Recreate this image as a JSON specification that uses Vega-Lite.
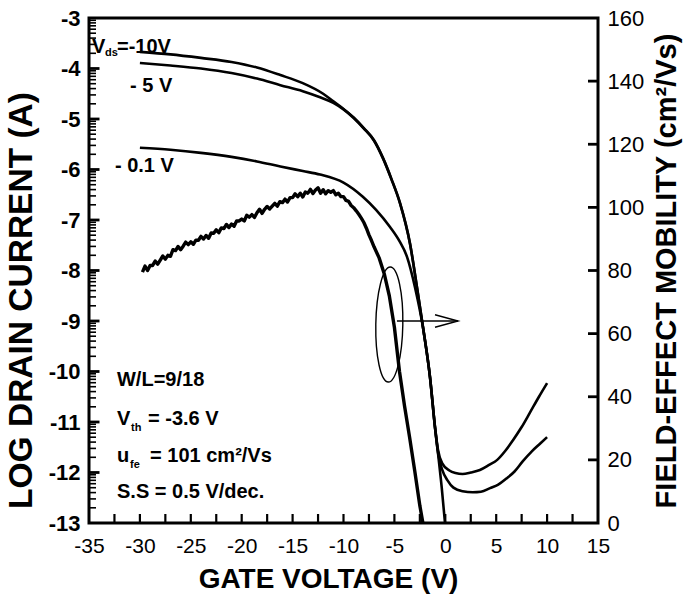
{
  "$schema": "https://vega.github.io/schema/vega-lite/v6.json",
  "width": 509,
  "height": 505,
  "autosize": "none",
  "padding": {"left": 89, "top": 18, "right": 88, "bottom": 84},
  "background": "white",
  "config": {
    "font": "Liberation Sans",
    "view": {"stroke": "#000", "strokeWidth": 3},
    "axis": {"domain": false, "grid": false, "ticks": false, "labelColor": "#000", "titleColor": "#000", "labelFont": "Liberation Sans", "titleFont": "Liberation Sans", "labelFlush": false, "labelOverlap": false}
  },
  "datasets": {
    "curves": [
      {"s": "a", "v": -30, "y": -3.67}, {"s": "a", "v": -27, "y": -3.72}, {"s": "a", "v": -24, "y": -3.79}, {"s": "a", "v": -21, "y": -3.87}, {"s": "a", "v": -18.5, "y": -3.98}, {"s": "a", "v": -16.2, "y": -4.13}, {"s": "a", "v": -14, "y": -4.29}, {"s": "a", "v": -12, "y": -4.5}, {"s": "a", "v": -11, "y": -4.65}, {"s": "a", "v": -10, "y": -4.8}, {"s": "a", "v": -9, "y": -4.97}, {"s": "a", "v": -8, "y": -5.18}, {"s": "a", "v": -7, "y": -5.42}, {"s": "a", "v": -6.1, "y": -5.78}, {"s": "a", "v": -5.3, "y": -6.18}, {"s": "a", "v": -4.45, "y": -6.66}, {"s": "a", "v": -3.47, "y": -7.46}, {"s": "a", "v": -2.78, "y": -8.33}, {"s": "a", "v": -2.19, "y": -9.12}, {"s": "a", "v": -1.5, "y": -10.11}, {"s": "a", "v": -1.01, "y": -11.1}, {"s": "a", "v": -0.72, "y": -11.55}, {"s": "a", "v": -0.3, "y": -11.82}, {"s": "a", "v": 0.4, "y": -11.96}, {"s": "a", "v": 1.0, "y": -12.01}, {"s": "a", "v": 1.7, "y": -12.03}, {"s": "a", "v": 2.5, "y": -12.0}, {"s": "a", "v": 3.4, "y": -11.95}, {"s": "a", "v": 4.3, "y": -11.85}, {"s": "a", "v": 5.1, "y": -11.75}, {"s": "a", "v": 5.9, "y": -11.57}, {"s": "a", "v": 6.65, "y": -11.36}, {"s": "a", "v": 7.5, "y": -11.1}, {"s": "a", "v": 8.3, "y": -10.82}, {"s": "a", "v": 9.2, "y": -10.5}, {"s": "a", "v": 10, "y": -10.23},
      {"s": "b", "v": -30, "y": -3.89}, {"s": "b", "v": -27, "y": -3.94}, {"s": "b", "v": -24, "y": -4.0}, {"s": "b", "v": -21, "y": -4.09}, {"s": "b", "v": -18.5, "y": -4.2}, {"s": "b", "v": -16.2, "y": -4.33}, {"s": "b", "v": -14, "y": -4.45}, {"s": "b", "v": -12.3, "y": -4.57}, {"s": "b", "v": -11, "y": -4.68}, {"s": "b", "v": -10, "y": -4.81}, {"s": "b", "v": -9, "y": -4.98}, {"s": "b", "v": -8, "y": -5.19}, {"s": "b", "v": -7, "y": -5.43}, {"s": "b", "v": -6.1, "y": -5.79}, {"s": "b", "v": -5.3, "y": -6.19}, {"s": "b", "v": -4.45, "y": -6.67}, {"s": "b", "v": -3.47, "y": -7.47}, {"s": "b", "v": -2.78, "y": -8.34}, {"s": "b", "v": -2.19, "y": -9.13}, {"s": "b", "v": -1.5, "y": -10.12}, {"s": "b", "v": -1.01, "y": -11.12}, {"s": "b", "v": -0.72, "y": -11.6}, {"s": "b", "v": -0.3, "y": -11.95}, {"s": "b", "v": 0.2, "y": -12.15}, {"s": "b", "v": 0.8, "y": -12.3}, {"s": "b", "v": 1.7, "y": -12.37}, {"s": "b", "v": 2.7, "y": -12.39}, {"s": "b", "v": 3.5, "y": -12.38}, {"s": "b", "v": 4.4, "y": -12.31}, {"s": "b", "v": 5.2, "y": -12.24}, {"s": "b", "v": 6.0, "y": -12.12}, {"s": "b", "v": 6.8, "y": -11.98}, {"s": "b", "v": 7.6, "y": -11.78}, {"s": "b", "v": 8.5, "y": -11.58}, {"s": "b", "v": 9.3, "y": -11.43}, {"s": "b", "v": 10, "y": -11.3},
      {"s": "c", "v": -30, "y": -5.57}, {"s": "c", "v": -27, "y": -5.61}, {"s": "c", "v": -24, "y": -5.67}, {"s": "c", "v": -21, "y": -5.75}, {"s": "c", "v": -18.5, "y": -5.84}, {"s": "c", "v": -16.2, "y": -5.94}, {"s": "c", "v": -14, "y": -6.03}, {"s": "c", "v": -12.3, "y": -6.1}, {"s": "c", "v": -10, "y": -6.26}, {"s": "c", "v": -8.1, "y": -6.54}, {"s": "c", "v": -6.8, "y": -6.8}, {"s": "c", "v": -5.43, "y": -7.14}, {"s": "c", "v": -4.5, "y": -7.42}, {"s": "c", "v": -3.76, "y": -7.73}, {"s": "c", "v": -2.98, "y": -8.33}, {"s": "c", "v": -2.19, "y": -9.13}, {"s": "c", "v": -1.5, "y": -10.12}, {"s": "c", "v": -1.01, "y": -11.1}, {"s": "c", "v": -0.72, "y": -11.61}, {"s": "c", "v": -0.35, "y": -12.3}, {"s": "c", "v": -0.03, "y": -13.0}
    ],
    "mob": [
      {"v": -29.75, "mu": 79.5}, {"v": -29.5, "mu": 81.4}, {"v": -29.25, "mu": 80.0}, {"v": -29.0, "mu": 81.6}, {"v": -28.75, "mu": 81.6}, {"v": -28.5, "mu": 83.0}, {"v": -28.25, "mu": 82.0}, {"v": -28.0, "mu": 83.3}, {"v": -27.75, "mu": 84.6}, {"v": -27.5, "mu": 83.6}, {"v": -27.25, "mu": 84.8}, {"v": -27.0, "mu": 84.5}, {"v": -26.75, "mu": 86.6}, {"v": -26.5, "mu": 86.3}, {"v": -26.25, "mu": 87.6}, {"v": -26.0, "mu": 86.6}, {"v": -25.75, "mu": 87.7}, {"v": -25.5, "mu": 89.0}, {"v": -25.25, "mu": 88.2}, {"v": -25.0, "mu": 89.1}, {"v": -24.75, "mu": 88.3}, {"v": -24.5, "mu": 89.6}, {"v": -24.25, "mu": 89.6}, {"v": -24.0, "mu": 90.8}, {"v": -23.75, "mu": 90.0}, {"v": -23.5, "mu": 91.1}, {"v": -23.25, "mu": 90.2}, {"v": -23.0, "mu": 91.9}, {"v": -22.75, "mu": 91.8}, {"v": -22.5, "mu": 92.9}, {"v": -22.25, "mu": 92.0}, {"v": -22.0, "mu": 93.5}, {"v": -21.75, "mu": 93.3}, {"v": -21.5, "mu": 94.6}, {"v": -21.25, "mu": 93.6}, {"v": -21.0, "mu": 94.7}, {"v": -20.75, "mu": 94.0}, {"v": -20.5, "mu": 95.7}, {"v": -20.25, "mu": 95.7}, {"v": -20.0, "mu": 96.3}, {"v": -19.75, "mu": 95.7}, {"v": -19.5, "mu": 97.5}, {"v": -19.25, "mu": 96.9}, {"v": -19.0, "mu": 97.7}, {"v": -18.75, "mu": 96.8}, {"v": -18.5, "mu": 98.3}, {"v": -18.25, "mu": 99.4}, {"v": -18.0, "mu": 98.1}, {"v": -17.75, "mu": 99.4}, {"v": -17.5, "mu": 100.3}, {"v": -17.25, "mu": 99.5}, {"v": -17.0, "mu": 100.4}, {"v": -16.75, "mu": 101.3}, {"v": -16.5, "mu": 100.4}, {"v": -16.25, "mu": 101.8}, {"v": -16.0, "mu": 101.5}, {"v": -15.75, "mu": 102.6}, {"v": -15.5, "mu": 101.7}, {"v": -15.25, "mu": 103.1}, {"v": -15.0, "mu": 103.1}, {"v": -14.75, "mu": 104.3}, {"v": -14.5, "mu": 103.4}, {"v": -14.25, "mu": 104.5}, {"v": -14.0, "mu": 103.3}, {"v": -13.75, "mu": 104.9}, {"v": -13.5, "mu": 104.5}, {"v": -13.25, "mu": 105.7}, {"v": -13.0, "mu": 104.4}, {"v": -12.75, "mu": 105.5}, {"v": -12.5, "mu": 106.2}, {"v": -12.25, "mu": 104.5}, {"v": -12.0, "mu": 105.6}, {"v": -11.75, "mu": 104.3}, {"v": -11.5, "mu": 105.3}, {"v": -11.25, "mu": 104.8}, {"v": -11.0, "mu": 105.3}, {"v": -10.75, "mu": 104.0}, {"v": -10.5, "mu": 104.5}, {"v": -10.25, "mu": 103.4}, {"v": -10.0, "mu": 103.4}, {"v": -9.75, "mu": 102.2}, {"v": -9.5, "mu": 101.9}, {"v": -9.25, "mu": 100.6}, {"v": -9.0, "mu": 99.9}, {"v": -8.75, "mu": 98.9}, {"v": -8.5, "mu": 97.8}, {"v": -8.25, "mu": 96.6}, {"v": -8.0, "mu": 95.2}, {"v": -7.75, "mu": 93.4}, {"v": -7.5, "mu": 91.3}, {"v": -7.25, "mu": 89.5}, {"v": -7.0, "mu": 87.5}, {"v": -6.5, "mu": 84.0}, {"v": -6.0, "mu": 79.0}, {"v": -5.5, "mu": 72.0}, {"v": -5.0, "mu": 62.0}, {"v": -4.5, "mu": 48.0}, {"v": -4.0, "mu": 37.0}, {"v": -3.5, "mu": 27.0}, {"v": -3.0, "mu": 16.5}, {"v": -2.5, "mu": 5.5}, {"v": -2.2, "mu": 0}
    ]
  },
  "encoding": {
    "x": {
      "field": "v", "type": "quantitative",
      "scale": {"domain": [-35, 15], "nice": false, "zero": false},
      "axis": {
        "title": "GATE VOLTAGE (V)",
        "values": [-35, -30, -25, -20, -15, -10, -5, 0, 5, 10, 15],
        "labelExpr": "toString(datum.value)",
        "labelFontSize": 21, "labelPadding": 12,
        "titleFontSize": 28, "titleFontWeight": "bold", "titlePadding": 9, "titleX": 239
      }
    }
  },
  "layer": [
    {
      "encoding": {
        "y": {
          "field": "y", "type": "quantitative",
          "scale": {"domain": [-13, -3], "nice": false, "zero": false},
          "axis": {
            "orient": "left",
            "title": "LOG DRAIN CURRENT (A)",
            "values": [-13, -12, -11, -10, -9, -8, -7, -6, -5, -4, -3],
            "labelExpr": "toString(datum.value)",
            "labelFontSize": 22, "labelFontWeight": "bold", "labelPadding": 9,
            "titleFontSize": 33.5, "titleFontWeight": "bold", "titlePadding": 10, "titleY": 282
          }
        }
      },
      "layer": [
        {
          "data": {"values": [
            {"v": -32.5, "y": -13}, {"v": -30, "y": -13}, {"v": -27.5, "y": -13}, {"v": -25, "y": -13}, {"v": -22.5, "y": -13}, {"v": -20, "y": -13}, {"v": -17.5, "y": -13}, {"v": -15, "y": -13}, {"v": -12.5, "y": -13}, {"v": -10, "y": -13}, {"v": -7.5, "y": -13}, {"v": -5, "y": -13}, {"v": -2.5, "y": -13}, {"v": 0, "y": -13}, {"v": 2.5, "y": -13}, {"v": 5, "y": -13}, {"v": 7.5, "y": -13}, {"v": 10, "y": -13}, {"v": 12.5, "y": -13}
          ]},
          "mark": {"type": "point", "shape": "M0,0 L0,-1", "size": 324, "filled": false, "stroke": "#000", "strokeWidth": 2.2, "opacity": 1}
        },
        {
          "data": {"values": [
            {"v": -35, "y": -12}, {"v": -35, "y": -11}, {"v": -35, "y": -10}, {"v": -35, "y": -9}, {"v": -35, "y": -8}, {"v": -35, "y": -7}, {"v": -35, "y": -6}, {"v": -35, "y": -5}, {"v": -35, "y": -4}
          ]},
          "mark": {"type": "point", "shape": "M0,0 L1,0", "size": 441, "filled": false, "stroke": "#000", "strokeWidth": 2.8, "opacity": 1}
        },
        {
          "data": {"values": [
            {"v": -35, "y": -12.69897}, {"v": -35, "y": -12.52288}, {"v": -35, "y": -12.39794}, {"v": -35, "y": -12.30103}, {"v": -35, "y": -12.22185}, {"v": -35, "y": -12.1549}, {"v": -35, "y": -12.09691}, {"v": -35, "y": -12.04576},
            {"v": -35, "y": -11.69897}, {"v": -35, "y": -11.52288}, {"v": -35, "y": -11.39794}, {"v": -35, "y": -11.30103}, {"v": -35, "y": -11.22185}, {"v": -35, "y": -11.1549}, {"v": -35, "y": -11.09691}, {"v": -35, "y": -11.04576},
            {"v": -35, "y": -10.69897}, {"v": -35, "y": -10.52288}, {"v": -35, "y": -10.39794}, {"v": -35, "y": -10.30103}, {"v": -35, "y": -10.22185}, {"v": -35, "y": -10.1549}, {"v": -35, "y": -10.09691}, {"v": -35, "y": -10.04576},
            {"v": -35, "y": -9.69897}, {"v": -35, "y": -9.52288}, {"v": -35, "y": -9.39794}, {"v": -35, "y": -9.30103}, {"v": -35, "y": -9.22185}, {"v": -35, "y": -9.1549}, {"v": -35, "y": -9.09691}, {"v": -35, "y": -9.04576},
            {"v": -35, "y": -8.69897}, {"v": -35, "y": -8.52288}, {"v": -35, "y": -8.39794}, {"v": -35, "y": -8.30103}, {"v": -35, "y": -8.22185}, {"v": -35, "y": -8.1549}, {"v": -35, "y": -8.09691}, {"v": -35, "y": -8.04576},
            {"v": -35, "y": -7.69897}, {"v": -35, "y": -7.52288}, {"v": -35, "y": -7.39794}, {"v": -35, "y": -7.30103}, {"v": -35, "y": -7.22185}, {"v": -35, "y": -7.1549}, {"v": -35, "y": -7.09691}, {"v": -35, "y": -7.04576},
            {"v": -35, "y": -6.69897}, {"v": -35, "y": -6.52288}, {"v": -35, "y": -6.39794}, {"v": -35, "y": -6.30103}, {"v": -35, "y": -6.22185}, {"v": -35, "y": -6.1549}, {"v": -35, "y": -6.09691}, {"v": -35, "y": -6.04576},
            {"v": -35, "y": -5.69897}, {"v": -35, "y": -5.52288}, {"v": -35, "y": -5.39794}, {"v": -35, "y": -5.30103}, {"v": -35, "y": -5.22185}, {"v": -35, "y": -5.1549}, {"v": -35, "y": -5.09691}, {"v": -35, "y": -5.04576},
            {"v": -35, "y": -4.69897}, {"v": -35, "y": -4.52288}, {"v": -35, "y": -4.39794}, {"v": -35, "y": -4.30103}, {"v": -35, "y": -4.22185}, {"v": -35, "y": -4.1549}, {"v": -35, "y": -4.09691}, {"v": -35, "y": -4.04576},
            {"v": -35, "y": -3.69897}, {"v": -35, "y": -3.52288}, {"v": -35, "y": -3.39794}, {"v": -35, "y": -3.30103}, {"v": -35, "y": -3.22185}, {"v": -35, "y": -3.1549}, {"v": -35, "y": -3.09691}, {"v": -35, "y": -3.04576}
          ]},
          "mark": {"type": "point", "shape": "M0,0 L1,0", "size": 196, "filled": false, "stroke": "#000", "strokeWidth": 1.6, "opacity": 1}
        },
        {
          "data": {"name": "curves"},
          "mark": {"type": "line", "color": "#000", "strokeWidth": 2.6, "strokeJoin": "round", "interpolate": "monotone"},
          "encoding": {"detail": {"field": "s"}}
        },
        {
          "data": {"values": [{"v": -5.5, "y": -9.07}]},
          "mark": {"type": "point", "shape": "M0,-1 A0.235,1 0 1,1 0,1 A0.235,1 0 1,1 0,-1 Z", "size": 13225, "filled": false, "stroke": "#000", "strokeWidth": 1.4, "opacity": 1, "angle": 1}
        },
        {
          "data": {"values": [{"v": -4.75, "v2": 1.25, "y": -9.0}]},
          "mark": {"type": "rule", "color": "#000", "strokeWidth": 1.4},
          "encoding": {"x2": {"field": "v2"}}
        },
        {
          "data": {"values": [{"v": 1.25, "y": -9.0}]},
          "mark": {"type": "point", "shape": "M-1,-0.27 L0,0 L-1,0.27", "size": 2116, "filled": false, "stroke": "#000", "strokeWidth": 1.4, "opacity": 1}
        },
        {
          "data": {"values": [
            {"v": -34.7, "y": -3.69, "t": "V"},
            {"v": -32.25, "y": -3.69, "t": "=-10V"},
            {"v": -30.97, "y": -4.465, "t": "- 5 V"},
            {"v": -32.45, "y": -6.05, "t": "- 0.1 V"},
            {"v": -32.25, "y": -10.29, "t": "W/L=9/18"},
            {"v": -32.25, "y": -11.06, "t": "V"},
            {"v": -29.2, "y": -11.06, "t": "= -3.6 V"},
            {"v": -32.25, "y": -11.79, "t": "u"},
            {"v": -29.0, "y": -11.79, "t": "= 101 cm²/Vs"},
            {"v": -32.25, "y": -12.5, "t": "S.S = 0.5 V/dec."}
          ]},
          "mark": {"type": "text", "align": "left", "baseline": "alphabetic", "fontSize": 20, "fontWeight": "bold", "font": "Liberation Sans", "color": "#000"},
          "encoding": {"text": {"field": "t"}}
        },
        {
          "data": {"values": [
            {"v": -33.43, "y": -3.75, "t": "ds"},
            {"v": -30.87, "y": -11.18, "t": "th"},
            {"v": -30.97, "y": -11.91, "t": "fe"}
          ]},
          "mark": {"type": "text", "align": "left", "baseline": "alphabetic", "fontSize": 11, "fontWeight": "bold", "font": "Liberation Sans", "color": "#000"},
          "encoding": {"text": {"field": "t"}}
        }
      ]
    },
    {
      "encoding": {
        "y": {
          "field": "mu", "type": "quantitative",
          "scale": {"domain": [0, 160], "nice": false, "zero": false},
          "axis": {
            "orient": "right",
            "title": "FIELD-EFFECT MOBILITY (cm²/Vs)",
            "values": [0, 20, 40, 60, 80, 100, 120, 140, 160],
            "labelFontSize": 22, "labelPadding": 9,
            "titleFontSize": 29, "titleFontWeight": "bold", "titleAngle": 270, "titlePadding": 38
          }
        }
      },
      "layer": [
        {
          "data": {"values": [
            {"v": 15, "mu": 20}, {"v": 15, "mu": 40}, {"v": 15, "mu": 60}, {"v": 15, "mu": 80}, {"v": 15, "mu": 100}, {"v": 15, "mu": 120}, {"v": 15, "mu": 140}
          ]},
          "mark": {"type": "point", "shape": "M0,0 L-1,0", "size": 400, "filled": false, "stroke": "#000", "strokeWidth": 2.8, "opacity": 1}
        },
        {
          "data": {"name": "mob"},
          "mark": {"type": "line", "color": "#000", "strokeWidth": 3.4, "strokeJoin": "round"}
        }
      ]
    }
  ],
  "resolve": {"scale": {"y": "independent"}}
}
